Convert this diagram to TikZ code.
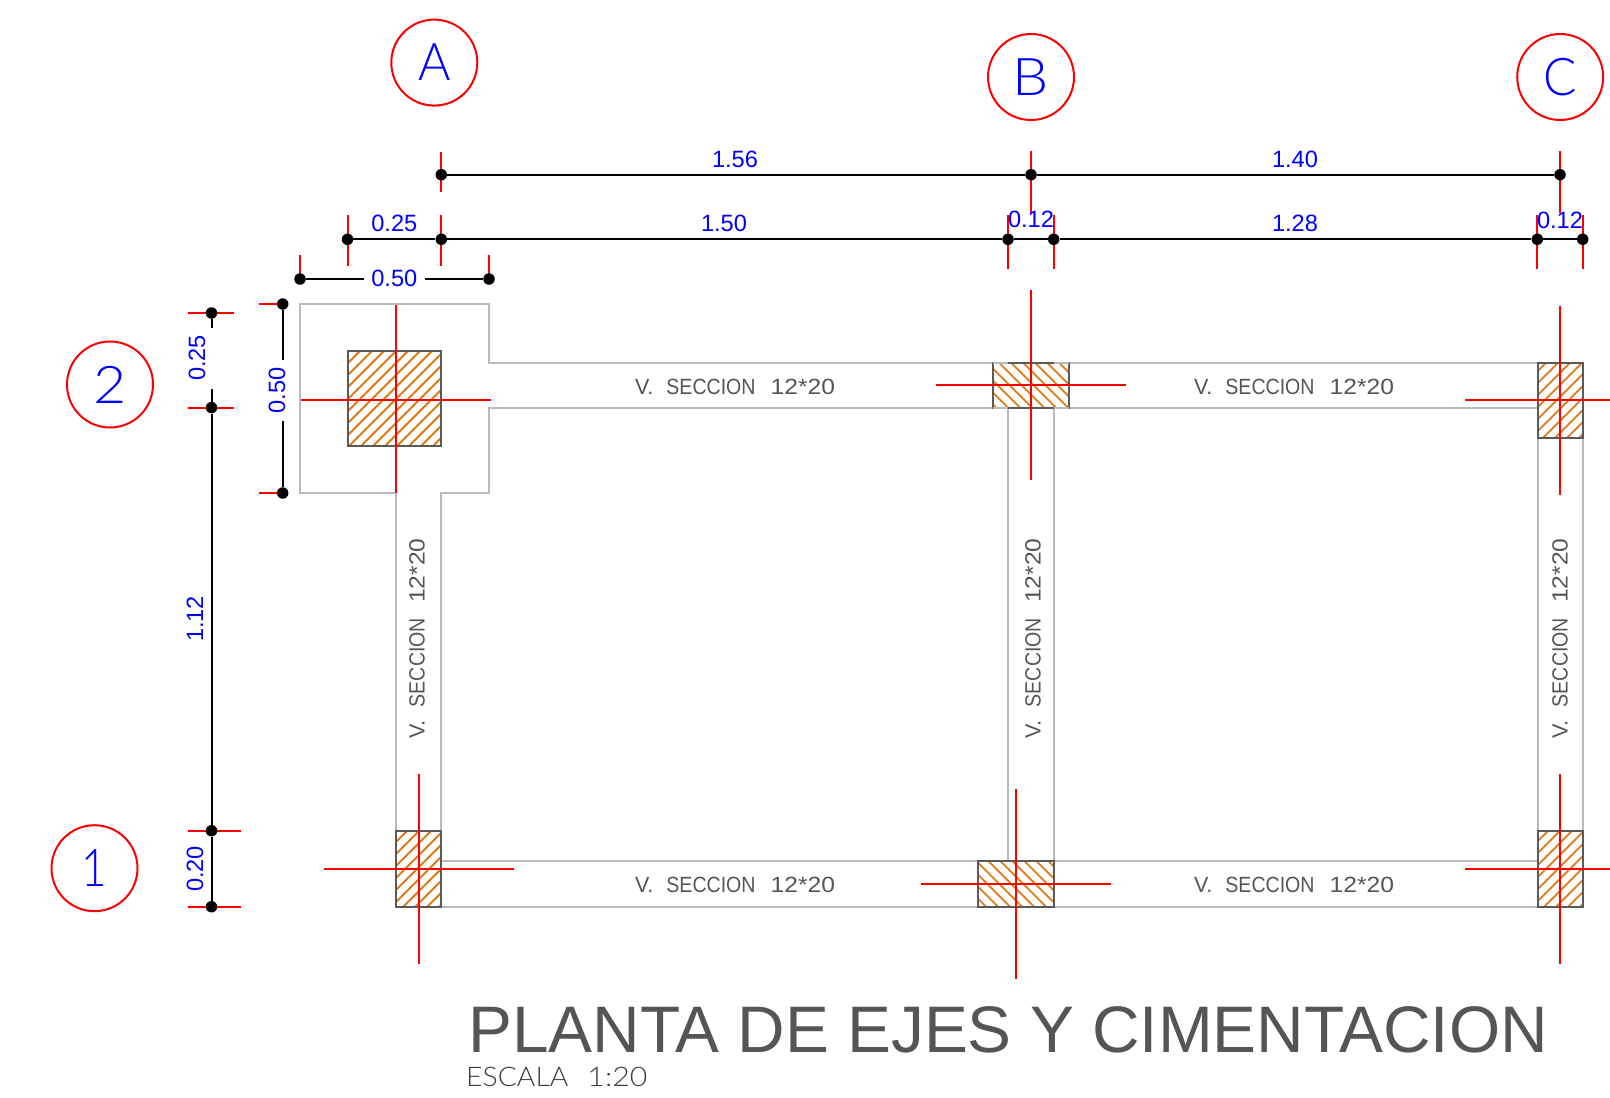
\documentclass[tikz,border=0pt]{standalone}
\usepackage{graphicx}
\usepackage{fontspec}
\setmainfont{Liberation Sans}
\newfontfamily\thinfont{Lato Light}
\definecolor{beamgray}{RGB}{186,186,186}
\definecolor{colgray}{RGB}{90,90,90}
\definecolor{orangehatch}{RGB}{224,122,20}
\definecolor{txtgray}{RGB}{85,85,85}
\definecolor{thingray}{RGB}{60,60,60}
\newcommand{\fs}[1]{\fontsize{#1}{#1}\selectfont}
\newcommand{\beamtxt}{\scalebox{0.98}[1]{V.}\hspace{13pt}\scalebox{0.89}[1]{SECCION}\hspace{15pt}\scalebox{1.12}[1]{12*20}}
\tikzset{
  beam/.style={draw=beamgray,line width=2pt},
  colbox/.style={draw=colgray,line width=2pt},
  hatchline/.style={draw=orangehatch,line width=1.8pt},
  axisline/.style={draw=red,line width=2pt},
  tick/.style={draw=red,line width=2pt},
  dimline/.style={draw=black,line width=2pt},
  bubble/.style={circle,draw=red,line width=2pt,minimum size=86pt,inner sep=0pt,text=blue,font=\thinfont\fs{52}},
  dimtxt/.style={text=blue,font=\fs{23.6},inner sep=0pt},
  beamlabel/.style={text=txtgray,font=\fs{22},inner sep=0pt},
  dot/.style={circle,fill=black,inner sep=0pt,minimum size=11.5pt}
}
% hatch lines computed so they stop at the column's edges
\newcommand{\colNE}[5]{%
  \foreach \hn in {0,...,18} {
    \pgfmathsetmacro{\hc}{#1+#2+#5+12*\hn}
    \pgfmathsetmacro{\hs}{max(#1,\hc-#4)}
    \pgfmathsetmacro{\he}{min(#3,\hc-#2)}
    \pgfmathparse{\he>\hs ? 1 : 0}
    \ifnum\pgfmathresult=1
      \draw[hatchline] (\hs,{\hc-\hs}) -- (\he,{\hc-\he});
    \fi
  }
  \draw[colbox] (#1,#2) rectangle (#3,#4);
}
\newcommand{\colNW}[5]{%
  \foreach \hn in {-8,...,16} {
    \pgfmathsetmacro{\hc}{#1-#2+#5+12*\hn}
    \pgfmathsetmacro{\hs}{max(#1,\hc+#2)}
    \pgfmathsetmacro{\he}{min(#3,\hc+#4)}
    \pgfmathparse{\he>\hs ? 1 : 0}
    \ifnum\pgfmathresult=1
      \draw[hatchline] (\hs,{\hs-\hc}) -- (\he,{\he-\hc});
    \fi
  }
  \draw[colbox] (#1,#2) rectangle (#3,#4);
}
\begin{document}
\begin{tikzpicture}[x=1pt,y=-1pt]
\useasboundingbox (0,0) rectangle (1610,1098);
% beams and footing
\draw[beam] (396,831) -- (396,493) -- (300,493) -- (300,304) -- (489,304) -- (489,362.7) -- (1537.5,362.7);
\draw[beam] (1537.5,408) -- (489,408) -- (489,493) -- (441.3,493) -- (441.3,831);
\draw[beam] (1008,408) -- (1008,861);
\draw[beam] (1053.7,408) -- (1053.7,861);
\draw[beam] (1537.5,438) -- (1537.5,831);
\draw[beam] (1582.7,438) -- (1582.7,831);
\draw[beam] (441.3,861) -- (1537.5,861);
\draw[beam] (396,906.7) -- (1537.5,906.7);
% columns
\colNE{347.5}{351}{441.3}{446}{12.5}
\colNW{993}{362.7}{1069}{407.5}{6}
\colNE{1537.5}{362.7}{1582.7}{437.7}{8.7}
\colNE{396}{831.3}{441.3}{906.7}{10.7}
\colNW{978.3}{861}{1053.5}{906.7}{10}
\colNE{1537.5}{831.3}{1582.7}{906.7}{10}
\draw[beam] (993,362.7) -- (1008,362.7) (1053.7,362.7) -- (1069,362.7) (993,407.7) -- (1008,407.7) (1053.7,407.7) -- (1069,407.7);
% axes
\draw[axisline] (396,305) -- (396,493);
\draw[axisline] (301,400) -- (491,400);
\draw[axisline] (1031,290) -- (1031,479.5);
\draw[axisline] (936,385) -- (1126,385);
\draw[axisline] (1560,305.5) -- (1560,495);
\draw[axisline] (1465,400) -- (1610,400);
\draw[axisline] (418.7,774) -- (418.7,963.5);
\draw[axisline] (323.5,869) -- (513.5,869);
\draw[axisline] (1016,789.3) -- (1016,978.5);
\draw[axisline] (920.7,883.7) -- (1111,883.7);
\draw[axisline] (1560,774) -- (1560,963.5);
\draw[axisline] (1465,869) -- (1610,869);
% extension ticks
\draw[tick] (441.3,152) -- (441.3,192) (1031,150.7) -- (1031,212.7) (1560,150.7) -- (1560,212.7);
\draw[tick] (347.5,215) -- (347.5,266) (441.3,215) -- (441.3,266);
\draw[tick] (1008,215) -- (1008,269) (1053.7,215) -- (1053.7,269);
\draw[tick] (1537.3,215) -- (1537.3,269) (1582.7,215) -- (1582.7,269);
\draw[tick] (300,254.7) -- (300,279) (489,254.7) -- (489,279);
\draw[tick] (258.5,304) -- (282.7,304) (258.5,493) -- (282.7,493);
\draw[tick] (188,313) -- (234,313) (188,407.6) -- (234,407.6);
\draw[tick] (188,830.7) -- (241,830.7) (188,906.7) -- (241,906.7);
% dimension anchors
\node[dot] (t1) at (441.3,174.7) {};
\node[dot] (t2) at (1031,174.7) {};
\node[dot] (t3) at (1560,174.7) {};
\node[dot] (m1) at (347.5,239.3) {};
\node[dot] (m2) at (441.3,239.3) {};
\node[dot] (m3) at (1008,239.3) {};
\node[dot] (m4) at (1053.7,239.3) {};
\node[dot] (m5) at (1537.3,239.3) {};
\node[dot] (m6) at (1582.7,239.3) {};
\node[dot] (h1) at (300,279) {};
\node[dot] (h2) at (489,279) {};
\node[dot] (v1) at (282.7,304) {};
\node[dot] (v2) at (282.7,493) {};
\node[dot] (l1) at (211.5,313) {};
\node[dot] (l2) at (211.5,407.6) {};
\node[dot] (l3) at (211.5,830.7) {};
\node[dot] (l4) at (211.5,906.7) {};
\coordinate (hg1) at (364,279);
\coordinate (hg2) at (425,279);
\coordinate (vg1) at (282.7,360);
\coordinate (vg2) at (282.7,421);
\coordinate (lg1) at (211.5,328);
\coordinate (lg2) at (211.5,389);
\draw[dimline] (t1) -- (t2) -- (t3);
\draw[dimline] (m1) -- (m2) -- (m3) -- (m4) -- (m5) -- (m6);
\draw[dimline] (h1) -- (hg1) (hg2) -- (h2);
\draw[dimline] (v1) -- (vg1) (vg2) -- (v2);
\draw[dimline] (l1) -- (lg1) (lg2) -- (l2) -- (l3) -- (l4);
% bubbles
\node[bubble] (bA) at (434.3,62.6) {\scalebox{0.95}[1]{A}};
\node[bubble] (bB) at (1031,77) {\scalebox{1.1}[1]{B}};
\node[bubble] (bC) at (1560.2,77) {\scalebox{0.95}[1]{C}};
\node[bubble] (b2) at (110,384.5) {\scalebox{1.1}[1]{2}};
\node[bubble] (b1) at (94.5,868.2) {\scalebox{0.85}[1]{1}};
% dimension text
\node[dimtxt] (d1) at (735,159) {1.56};
\node[dimtxt] (d2) at (1295,159) {1.40};
\node[dimtxt] (d3) at (394.3,223) {0.25};
\node[dimtxt] (d4) at (724,223) {1.50};
\node[dimtxt] (d5) at (1031,219.5) {0.12};
\node[dimtxt] (d6) at (1295,223) {1.28};
\node[dimtxt] (d7) at (1560,220.5) {0.12};
\node[dimtxt] (d8) at (394.3,278.5) {0.50};
\node[dimtxt,rotate=90] (d9) at (277,390.5) {0.50};
\node[dimtxt,rotate=90] (d10) at (197,358) {0.25};
\node[dimtxt,rotate=90] (d11) at (195,619) {1.12};
\node[dimtxt,rotate=90] (d12) at (195,869) {0.20};
% beam labels
\node[beamlabel] (s1) at (735,386.5) {\beamtxt};
\node[beamlabel] (s2) at (1294,386.5) {\beamtxt};
\node[beamlabel] (s3) at (735,885) {\beamtxt};
\node[beamlabel] (s4) at (1294,885) {\beamtxt};
\node[beamlabel,rotate=90] (s5) at (417,638.5) {\beamtxt};
\node[beamlabel,rotate=90] (s6) at (1033,638.5) {\beamtxt};
\node[beamlabel,rotate=90] (s7) at (1560,638.5) {\beamtxt};
% title
\node[text=txtgray,font=\fs{65.8},inner sep=0pt,anchor=base west] (title) at (468,1052) {PLANTA DE EJES Y CIMENTACION};
\node[text=thingray,font=\thinfont\fs{27},inner sep=0pt,anchor=base west] (scale) at (466,1086) {\scalebox{1.05}[1]{ESCALA}\hspace{19pt}\scalebox{1.12}[1]{1:20}};
\end{tikzpicture}
\end{document}
